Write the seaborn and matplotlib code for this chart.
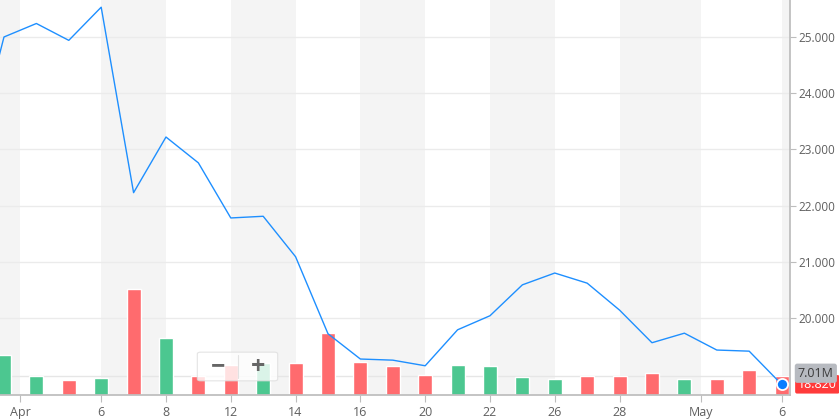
import matplotlib
matplotlib.use("Agg")
import matplotlib.pyplot as plt
import matplotlib.transforms as mtransforms
from matplotlib.patches import FancyBboxPatch
import seaborn as sns
import pandas as pd

# daily closes (first one is the session just off the left edge)
days = list(range(-1, 25))
close = [22.75, 25.00, 25.24, 24.94, 25.53, 22.23, 23.22, 22.76, 21.78, 21.81,
         21.09, 19.72, 19.27, 19.25, 19.15, 19.79, 20.04, 20.59, 20.80, 20.62,
         20.14, 19.56, 19.73, 19.43, 19.41, 18.82]

# volume in millions, one bar per visible session
vol_days = list(range(0, 25))
volume = [14.6, 7.0, 5.6, 6.3, 38.5, 20.8, 7.0, 10.9, 11.6, 11.7,
          22.6, 12.1, 10.6, 7.4, 11.0, 10.6, 6.6, 5.9, 7.0, 7.0,
          8.1, 5.9, 5.9, 9.2, 7.01]

tick_pos = [0.5, 3, 5, 7, 9, 11, 13, 15, 17, 19, 21.5, 24]
tick_labels = ["Apr", "6", "8", "12", "14", "16", "20", "22", "26", "28", "May", "6"]
price_ticks = [20, 21, 22, 23, 24, 25]

last_price = "18.820"
last_volume = "7.01M"

sns.set_theme(style="white")
plt.rcParams["font.family"] = ["Open Sans", "DejaVu Sans"]

GREEN = "#4cc790"
RED = "#ff6b6e"
BLUE = "#1e8fff"
GRAY_TXT = "#5f5f5f"
AXIS = "#bdbdbd"

direction = ["up" if close[i + 1] >= close[i] else "down" for i in range(len(vol_days))]
vol_df = pd.DataFrame({"day": vol_days, "volume": volume, "dir": direction})
price_df = pd.DataFrame({"day": days, "close": close})

fig = plt.figure(figsize=(8.39, 4.19), dpi=100)
ax = fig.add_axes([0, 24 / 419, 790 / 839, 395 / 419])
ax2 = ax.twinx()

xmin, xmax = -0.123, 24.26

# alternating background bands between date ticks
bounds = [xmin] + tick_pos + [xmax]
for k in range(len(bounds) - 1):
    if k % 2 == 0:
        ax.axvspan(bounds[k], bounds[k + 1], color="#f4f4f4", lw=0, zorder=0)

# volume bars
sns.barplot(data=vol_df, x="day", y="volume", hue="dir",
            palette={"up": GREEN, "down": RED}, dodge=False, width=0.43,
            legend=False, ax=ax, zorder=2, saturation=1)
ax.set_ylim(0, 143.5)
ax.axhline(volume[-1], color="#e6e6e6", lw=1, zorder=1)

# price gridlines, drawn behind bars using price scale
trans = mtransforms.blended_transform_factory(ax.transAxes, ax2.transData)
for p in price_ticks:
    ax.plot([0, 1], [p, p], transform=trans, color="#ebebeb", lw=1, zorder=1)

# price line
sns.lineplot(data=price_df, x="day", y="close", ax=ax2, color=BLUE, lw=1.0)
ax2.plot([days[-1]], [close[-1]], "o", color="#0a7cff", ms=8, mec="white", mew=1.3,
         zorder=5, clip_on=False)
ax2.set_ylim(18.63, 25.658)
ax2.set_xlim(xmin, xmax)
ax.set_xlim(xmin, xmax)

ax2.set_yticks(price_ticks)
ax2.set_yticklabels([f"{p:.3f}" for p in price_ticks])
ax2.tick_params(axis="y", right=True, length=4, width=0.8, color=AXIS,
                labelsize=8.5, labelcolor=GRAY_TXT, pad=2)
ax.set_yticks([])
ax.set_xticks(tick_pos)
ax.set_xticklabels(tick_labels)
ax.tick_params(axis="x", bottom=True, length=5, width=0.8, color=AXIS,
               labelsize=9, labelcolor=GRAY_TXT, pad=3)
ax.set_xlabel("")
ax.set_ylabel("")
ax2.set_xlabel("")
ax2.set_ylabel("")

for a in (ax, ax2):
    for s in a.spines.values():
        s.set_visible(False)
ax.spines["bottom"].set_visible(True)
ax.spines["bottom"].set_color(AXIS)
ax2.spines["right"].set_visible(True)
ax2.spines["right"].set_color(AXIS)
ax.set_zorder(1)
ax2.set_zorder(2)

# last price / volume labels at the right edge (volume box sits on top)
lab_trans = mtransforms.blended_transform_factory(ax2.transAxes, ax2.transData)
ax2.text(1.010, 18.82, last_price, transform=lab_trans, ha="left", va="center",
         fontsize=9, color="white", clip_on=False, zorder=6,
         bbox=dict(boxstyle="round,pad=0.22,rounding_size=0.15", fc="#ff3b3b", ec="none"))
vol_trans = mtransforms.blended_transform_factory(ax2.transAxes, ax.transData)
ax2.text(1.010, volume[-1] + 0.9, last_volume, transform=vol_trans, ha="left", va="center",
         fontsize=9, color="#3a3a3a", clip_on=False, zorder=7,
         bbox=dict(boxstyle="round,pad=0.25,rounding_size=0.2", fc="#b7bac0", ec="none"))

# zoom control widget
box = FancyBboxPatch((199 / 839, 1 - 380 / 419), 77 / 839, 27 / 419,
                     boxstyle="round,pad=0.002,rounding_size=0.004",
                     transform=fig.transFigure, fc="white", ec="#dddddd",
                     alpha=0.8, lw=0.8, zorder=10)
fig.patches.append(box)
fig.add_artist(plt.Line2D([238 / 839, 238 / 839], [1 - 378 / 419, 1 - 355 / 419],
                          transform=fig.transFigure, color="#e2e2e2", lw=0.8, zorder=11))
fig.text(218 / 839, 1 - 367 / 419, "−", ha="center", va="center", fontsize=18,
         color="#666666", fontweight="bold", zorder=12)
fig.text(258 / 839, 1 - 367 / 419, "+", ha="center", va="center", fontsize=18,
         color="#666666", fontweight="bold", zorder=12)

fig.savefig("out.png", dpi=100)
